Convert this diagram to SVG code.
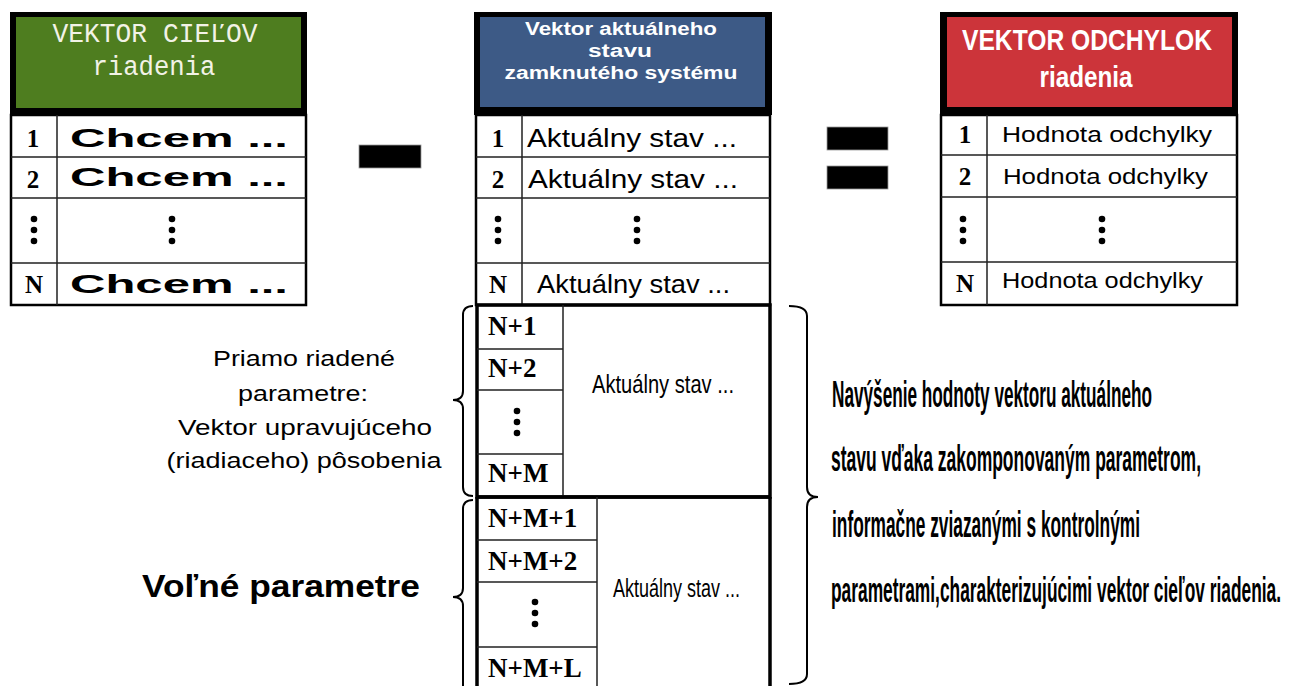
<svg xmlns="http://www.w3.org/2000/svg" width="1290" height="686" viewBox="0 0 1290 686">
<defs>
  <symbol id="vdots" overflow="visible">
    <circle cx="0" cy="-11" r="3.3"/>
    <circle cx="0" cy="0" r="3.3"/>
    <circle cx="0" cy="11" r="3.3"/>
  </symbol>
</defs>
<style>
.rows{fill:#fff;stroke:#000;stroke-width:2.5}
.ln{stroke:#222;stroke-width:1.5;fill:none}
.thick{stroke:#000;stroke-width:3.5;fill:none}
.num{font-family:"Liberation Serif",serif;font-weight:bold;font-size:25px;text-anchor:middle;fill:#000}
.lab{font-family:"Liberation Serif",serif;font-weight:bold;font-size:27px;fill:#000}
.chcem{font-family:"Liberation Sans",sans-serif;font-weight:bold;font-size:26px;fill:#000}
.akt{font-family:"Liberation Sans",sans-serif;font-size:26px;fill:#000}
.hod{font-family:"Liberation Sans",sans-serif;font-size:22px;fill:#000}
.hw{font-family:"Liberation Sans",sans-serif;font-weight:bold;fill:#fff;text-anchor:middle}
.side{font-family:"Liberation Sans",sans-serif;font-size:22px;fill:#000;text-anchor:middle}
.big{font-family:"Liberation Sans",sans-serif;font-weight:bold;font-size:19px;fill:#000}
.brace{fill:none;stroke:#000;stroke-width:2}
.op{fill:#000;stroke:#999;stroke-width:0.8}
</style>

<g id="vektor-cielov">
  <rect x="10" y="12" width="297" height="103" fill="#000"/>
  <rect x="16" y="17" width="285" height="91" fill="#4e7d1f"/>
  <text x="155" y="42" font-family="Liberation Mono, monospace" font-size="27" fill="#f2f2e6" text-anchor="middle" textLength="205" lengthAdjust="spacingAndGlyphs">VEKTOR CIEĽOV</text>
  <text x="154" y="75" font-family="Liberation Mono, monospace" font-size="27" fill="#f2f2e6" text-anchor="middle" textLength="123" lengthAdjust="spacingAndGlyphs">riadenia</text>
  <rect x="11" y="115" width="295" height="190" class="rows"/>
  <path class="ln" d="M11 157H306M11 198H306M11 263H306M57 115V305"/>
  <text class="num" x="33" y="147">1</text>
  <text class="num" x="33" y="188">2</text>
  <use href="#vdots" x="34" y="230"/>
  <text class="num" x="34" y="293">N</text>
  <text class="chcem" x="70" y="147" textLength="218" lengthAdjust="spacingAndGlyphs">Chcem ...</text>
  <text class="chcem" x="70" y="186" textLength="218" lengthAdjust="spacingAndGlyphs">Chcem ...</text>
  <use href="#vdots" x="172" y="230"/>
  <text class="chcem" x="70" y="293" textLength="218" lengthAdjust="spacingAndGlyphs">Chcem ...</text>
</g>

<g id="minus"><rect class="op" x="359" y="145" width="62" height="23"/></g>

<g id="vektor-aktualneho-stavu">
  <rect x="474" y="12" width="298" height="103" fill="#000"/>
  <rect x="480" y="17" width="285" height="90" fill="#3d5a86"/>
  <text class="hw" x="621" y="35" font-size="18" textLength="192" lengthAdjust="spacingAndGlyphs">Vektor aktuálneho</text>
  <text class="hw" x="620" y="57" font-size="18" textLength="64" lengthAdjust="spacingAndGlyphs">stavu</text>
  <text class="hw" x="621" y="79" font-size="18" textLength="233" lengthAdjust="spacingAndGlyphs">zamknutého systému</text>
  <rect x="476" y="115" width="294" height="190" class="rows"/>
  <path class="ln" d="M476 157H770M476 198H770M476 263H770M522 115V305"/>
  <text class="num" x="498" y="147">1</text>
  <text class="num" x="498" y="188">2</text>
  <use href="#vdots" x="498" y="230"/>
  <text class="num" x="498" y="293">N</text>
  <text class="akt" x="527" y="147" textLength="210" lengthAdjust="spacingAndGlyphs">Aktuálny stav ...</text>
  <text class="akt" x="528" y="188" textLength="210" lengthAdjust="spacingAndGlyphs">Aktuálny stav ...</text>
  <use href="#vdots" x="637" y="230"/>
  <text class="akt" x="537" y="293" textLength="193" lengthAdjust="spacingAndGlyphs">Aktuálny stav ...</text>
</g>

<g id="priamo-riadene">
  <rect x="477" y="305" width="293" height="192" fill="#fff" class="thick"/>
  <path class="ln" d="M563 305V497M477 349H563M477 390H563M477 454H563"/>
  <text class="lab" x="488" y="335">N+1</text>
  <text class="lab" x="488" y="377">N+2</text>
  <use href="#vdots" x="517" y="422"/>
  <text class="lab" x="488" y="482">N+M</text>
  <text class="akt" x="592" y="393" textLength="142" lengthAdjust="spacingAndGlyphs">Aktuálny stav ...</text>
</g>

<g id="volne-parametre">
  <path class="thick" d="M477 497V690M770 497V690M477 497H770"/>
  <path class="ln" d="M597 497V690M477 540H597M477 582H597M477 647H597"/>
  <text class="lab" x="488" y="527">N+M+1</text>
  <text class="lab" x="488" y="570">N+M+2</text>
  <use href="#vdots" x="535" y="613"/>
  <text class="lab" x="488" y="677">N+M+L</text>
  <text class="akt" x="613" y="597" font-size="24" textLength="127" lengthAdjust="spacingAndGlyphs">Aktuálny stav ...</text>
</g>

<g id="equals"><rect class="op" x="827" y="127" width="61" height="23"/><rect class="op" x="827" y="166" width="61" height="23"/></g>

<g id="vektor-odchylok">
  <rect x="940" y="12" width="298" height="103" fill="#000"/>
  <rect x="947" y="17" width="285" height="90" fill="#cc343a"/>
  <text class="hw" x="1087" y="50" font-size="30" textLength="250" lengthAdjust="spacingAndGlyphs">VEKTOR ODCHYLOK</text>
  <text class="hw" x="1086" y="87" font-size="30" textLength="93" lengthAdjust="spacingAndGlyphs">riadenia</text>
  <rect x="941" y="115" width="296" height="190" class="rows"/>
  <path class="ln" d="M941 155H1237M941 197H1237M941 262H1237M987 115V305"/>
  <text class="num" x="965" y="143">1</text>
  <text class="num" x="965" y="185">2</text>
  <use href="#vdots" x="963" y="230"/>
  <text class="num" x="965" y="292">N</text>
  <text class="hod" x="1002" y="142" textLength="210" lengthAdjust="spacingAndGlyphs">Hodnota odchylky</text>
  <text class="hod" x="1003" y="184" textLength="205" lengthAdjust="spacingAndGlyphs">Hodnota odchylky</text>
  <use href="#vdots" x="1102" y="230"/>
  <text class="hod" x="1002" y="288" textLength="201" lengthAdjust="spacingAndGlyphs">Hodnota odchylky</text>
</g>

<g id="connectors">
  <path class="brace" d="M473 306Q463 306 463 315L463 391Q463 400 453 400Q463 400 463 409L463 487Q463 496 473 496"/>
  <path class="brace" d="M473 500Q463 500 463 509L463 588Q463 597 453 597Q463 597 463 606L463 690"/>
  <path class="brace" d="M789 306Q807 306 807 316L807 487Q807 497 818 497Q807 497 807 507L807 674Q807 684 789 684"/>
</g>

<g id="label-priamo">
  <text class="side" x="304" y="366" textLength="182" lengthAdjust="spacingAndGlyphs">Priamo riadené</text>
  <text class="side" x="303" y="401" textLength="130" lengthAdjust="spacingAndGlyphs">parametre:</text>
  <text class="side" x="305" y="435" textLength="254" lengthAdjust="spacingAndGlyphs">Vektor upravujúceho</text>
  <text class="side" x="304" y="468" textLength="275" lengthAdjust="spacingAndGlyphs">(riadiaceho) pôsobenia</text>
</g>

<g id="label-volne">
  <text x="142" y="597" font-family="Liberation Sans, sans-serif" font-weight="bold" font-size="32" textLength="278" lengthAdjust="spacingAndGlyphs">Voľné parametre</text>
</g>

<g id="label-navysenie">
  <text class="big" transform="translate(832 407) scale(1 1.9)" textLength="320" lengthAdjust="spacingAndGlyphs">Navýšenie hodnoty vektoru aktuálneho</text>
  <text class="big" transform="translate(831 471) scale(1 1.9)" textLength="370" lengthAdjust="spacingAndGlyphs">stavu vďaka zakomponovaným parametrom,</text>
  <text class="big" transform="translate(832 537) scale(1 1.9)" textLength="308" lengthAdjust="spacingAndGlyphs">informačne zviazanými s kontrolnými</text>
  <text class="big" font-size="16" style="font-size:16px" transform="translate(831 602) scale(1 2.25)" textLength="450" lengthAdjust="spacingAndGlyphs">parametrami,charakterizujúcimi vektor cieľov riadenia.</text>
</g>
</svg>
